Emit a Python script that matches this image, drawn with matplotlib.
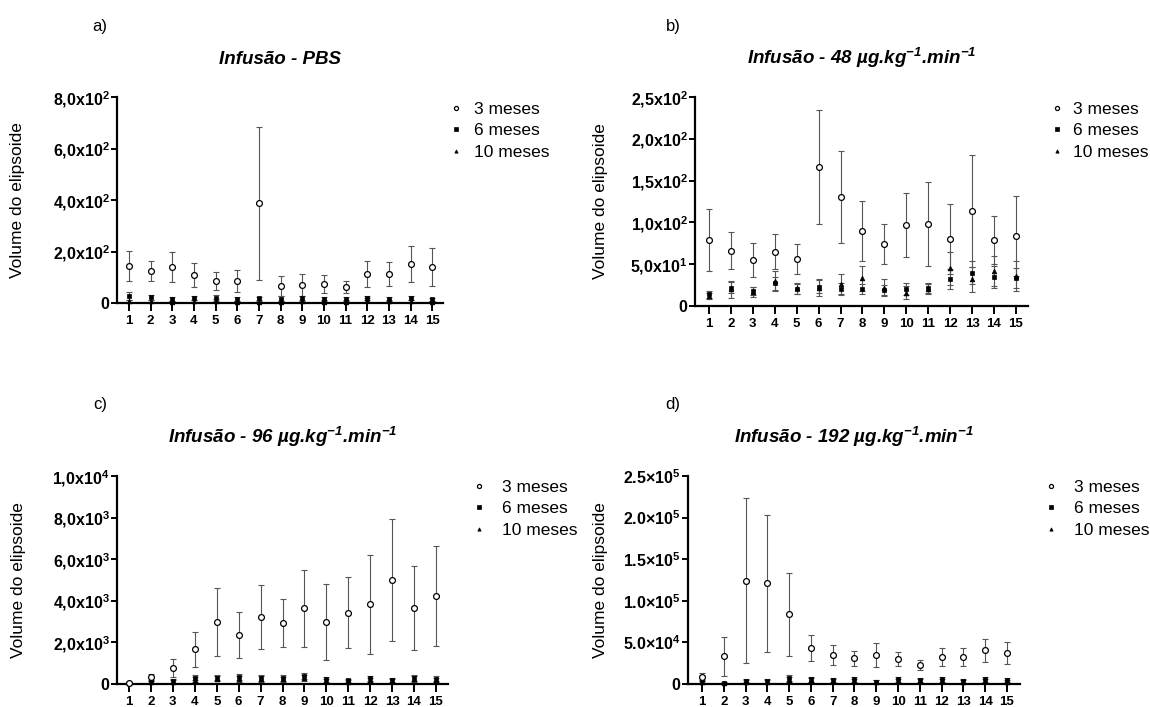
import matplotlib
matplotlib.use("Agg")
import matplotlib.pyplot as plt
from matplotlib.lines import Line2D
import numpy as np

plt.rcParams['font.family'] = ['Liberation Sans', 'DejaVu Sans']
plt.rcParams['mathtext.fontset'] = 'custom'
plt.rcParams['mathtext.rm'] = 'Liberation Sans'
plt.rcParams['mathtext.bf'] = 'Liberation Sans:bold'
plt.rcParams['mathtext.it'] = 'Liberation Sans:italic'
plt.rcParams['mathtext.bfit'] = 'Liberation Sans:italic:bold'

# ---------------- data ----------------
points = list(range(1, 16))
series_labels = ["3 meses", "6 meses", "10 meses"]

# a) PBS
pbs_3m = [144, 124, 140, 109, 85, 85, 388, 66, 70, 74, 62, 113, 113, 152, 140]
pbs_3m_sd = [58, 39, 58, 46, 36, 42, 297, 39, 43, 35, 23, 52, 48, 70, 74]
pbs_6m = [27, 23, 16, 19, 19, 16, 19, 16, 19, 16, 16, 19, 16, 19, 14]
pbs_6m_sd = [14, 10, 8, 7, 12, 8, 6, 10, 10, 6, 6, 9, 7, 8, 6]
pbs_10m = [8, 6, 5, 6, 8, 5, 4, 5, 6, 4, 5, 10, 6, 7, 5]
pbs_10m_sd = [5, 4, 3, 4, 6, 4, 3, 4, 4, 3, 3, 8, 4, 5, 3]

# b) 48 ug/kg/min
d48_3m = [79, 66, 55, 65, 56, 166, 130, 90, 74, 97, 98, 80, 114, 79, 84]
d48_3m_sd = [37, 22, 20, 21, 18, 68, 55, 36, 24, 38, 50, 42, 67, 29, 48]
d48_6m = [14, 22, 18, 27, 20, 23, 20, 20, 19, 20, 22, 32, 40, 35, 34]
d48_6m_sd = [4, 7, 5, 8, 6, 8, 7, 6, 6, 7, 6, 12, 14, 13, 12]
d48_10m = [12, 20, 17, 30, 21, 22, 26, 33, 22, 16, 20, 45, 32, 42, 36]
d48_10m_sd = [4, 10, 6, 12, 7, 10, 12, 15, 10, 8, 6, 20, 15, 18, 18]

# c) 96 ug/kg/min
d96_3m = [60, 340, 770, 1680, 2980, 2360, 3220, 2930, 3650, 2980, 3430, 3830, 5000, 3650, 4230]
d96_3m_sd = [40, 150, 410, 840, 1635, 1105, 1540, 1155, 1850, 1830, 1705, 2380, 2955, 2020, 2425]
d96_6m = [40, 100, 150, 300, 300, 350, 300, 300, 380, 220, 180, 280, 200, 300, 250]
d96_6m_sd = [20, 60, 80, 120, 120, 150, 150, 150, 150, 100, 80, 120, 100, 150, 120]
d96_10m = [30, 80, 120, 200, 250, 250, 250, 220, 300, 150, 120, 200, 150, 250, 200]
d96_10m_sd = [20, 50, 70, 120, 120, 130, 130, 120, 140, 90, 70, 110, 90, 130, 110]

# d) 192 ug/kg/min
d192_3m = [8400, 33600, 124000, 121000, 84000, 43600, 34800, 31000, 34800, 30000, 22800, 32400, 32400, 40800, 37200]
d192_3m_sd = [4600, 23450, 99250, 82600, 49750, 15500, 12500, 9100, 14200, 8650, 6000, 11200, 11000, 13800, 13000]
d192_6m = [2500, 1500, 4000, 3500, 7000, 6000, 5000, 5500, 3000, 5500, 5000, 5500, 3500, 5500, 4500]
d192_6m_sd = [2000, 1000, 2000, 2000, 3500, 3000, 2500, 2500, 2000, 3000, 2500, 3000, 2000, 3000, 2500]
d192_10m = [2000, 1000, 3000, 2500, 5000, 4500, 3500, 4000, 2500, 4000, 3500, 4000, 2500, 4000, 3000]
d192_10m_sd = [1500, 800, 1800, 1800, 3000, 2500, 2000, 2200, 1800, 2500, 2000, 2500, 1800, 2500, 2000]

# axis ticks and labels
pbs_yticks = [0, 200, 400, 600, 800]
pbs_ylabels = ["0", r"2,0x10$^{\mathbf{2}}$", r"4,0x10$^{\mathbf{2}}$", r"6,0x10$^{\mathbf{2}}$", r"8,0x10$^{\mathbf{2}}$"]
d48_yticks = [0, 50, 100, 150, 200, 250]
d48_ylabels = ["0", r"5,0x10$^{\mathbf{1}}$", r"1,0x10$^{\mathbf{2}}$", r"1,5x10$^{\mathbf{2}}$", r"2,0x10$^{\mathbf{2}}$", r"2,5x10$^{\mathbf{2}}$"]
d96_yticks = [0, 2000, 4000, 6000, 8000, 10000]
d96_ylabels = ["0", r"2,0x10$^{\mathbf{3}}$", r"4,0x10$^{\mathbf{3}}$", r"6,0x10$^{\mathbf{3}}$", r"8,0x10$^{\mathbf{3}}$", r"1,0x10$^{\mathbf{4}}$"]
d192_yticks = [0, 50000, 100000, 150000, 200000, 250000]
d192_ylabels = ["0", r"5.0×10$^{\mathbf{4}}$", r"1.0×10$^{\mathbf{5}}$", r"1.5×10$^{\mathbf{5}}$", r"2.0×10$^{\mathbf{5}}$", r"2.5×10$^{\mathbf{5}}$"]

titles = [
    "Infusão - PBS",
    r"Infusão - 48 µg.kg$^{\mathbfit{-1}}$.min$^{\mathbfit{-1}}$",
    r"Infusão - 96 µg.kg$^{\mathbfit{-1}}$.min$^{\mathbfit{-1}}$",
    r"Infusão - 192 µg.kg$^{\mathbfit{-1}}$.min$^{\mathbfit{-1}}$",
]
panel_tags = ["a)", "b)", "c)", "d)"]
ylabel = "Volume do elipsoide"

# ---------------- figure ----------------
W, H = 1150, 707
fig = plt.figure(figsize=(W / 100, H / 100), dpi=100)


def px_axes(left, top, right, bottom):
    return fig.add_axes([left / W, 1 - bottom / H, (right - left) / W, (bottom - top) / H])


panels = [
    dict(box=(117, 97, 443, 303), xlim=(0.45, 15.5),
         data=[(pbs_3m, pbs_3m_sd), (pbs_6m, pbs_6m_sd), (pbs_10m, pbs_10m_sd)],
         yt=pbs_yticks, yl=pbs_ylabels, leg=(449, 102, 0.65), tagpos=(100, 27), ylab_x=18),
    dict(box=(695, 97, 1028, 306), xlim=(0.36, 15.55),
         data=[(d48_3m, d48_3m_sd), (d48_6m, d48_6m_sd), (d48_10m, d48_10m_sd)],
         yt=d48_yticks, yl=d48_ylabels, leg=(1050, 102, 0.55), tagpos=(673, 27), ylab_x=600),
    dict(box=(117, 476, 448, 684), xlim=(0.45, 15.55),
         data=[(d96_3m, d96_3m_sd), (d96_6m, d96_6m_sd), (d96_10m, d96_10m_sd)],
         yt=d96_yticks, yl=d96_ylabels, leg=(472, 480, 0.9), tagpos=(100, 405), ylab_x=19),
    dict(box=(688, 476, 1020, 684), xlim=(0.36, 15.6),
         data=[(d192_3m, d192_3m_sd), (d192_6m, d192_6m_sd), (d192_10m, d192_10m_sd)],
         yt=d192_yticks, yl=d192_ylabels, leg=(1044, 480, 0.9), tagpos=(673, 405), ylab_x=600),
]

styles = [
    dict(marker='o', ms=4.2, mfc='white', mec='black', mew=0.9),
    dict(marker='s', ms=3.5, mfc='black', mec='black', mew=0.5),
    dict(marker='^', ms=3.4, mfc='black', mec='black', mew=0.5),
]

for p, title, tag in zip(panels, titles, panel_tags):
    ax = px_axes(*p['box'])
    x = np.array(points)
    # draw 10 meses first so the open circles sit on top
    for idx in [2, 1, 0]:
        mean, sd = p['data'][idx]
        ax.errorbar(x, mean, yerr=sd, fmt='none', ecolor='#555555', elinewidth=0.8,
                    capsize=2.2, capthick=0.8, clip_on=False, zorder=2)
        ax.plot(x, mean, linestyle='none', clip_on=False, zorder=4 - idx * 0.5,
                label=series_labels[idx], **styles[idx])
    h = [Line2D([], [], linestyle='none', **styles[i]) for i in range(3)]
    ax.set_xlim(*p['xlim'])
    ax.set_ylim(p['yt'][0], p['yt'][-1])
    ax.set_xticks(points)
    ax.set_xticklabels([str(v) for v in points], fontsize=9.5, fontweight='bold')
    ax.set_yticks(p['yt'])
    ax.set_yticklabels(p['yl'], fontsize=11.5, fontweight='bold')
    for s in ['top', 'right']:
        ax.spines[s].set_visible(False)
    for s in ['left', 'bottom']:
        ax.spines[s].set_linewidth(1.6)
    ax.tick_params(axis='y', length=4, width=1.4, pad=1.5)
    ax.tick_params(axis='x', length=6, width=1.4, pad=2.5)
    ax.set_title(title, fontsize=13.5, fontweight='bold', fontstyle='italic', pad=24)
    fig.text(p['ylab_x'] / W, 1 - ((p['box'][1] + p['box'][3]) / 2) / H, ylabel,
             rotation=90, ha='center', va='center', fontsize=12.5)
    tx, ty = p['tagpos']
    fig.text(tx / W, 1 - ty / H, tag, ha='center', va='center', fontsize=12)
    lx, ly, tp = p['leg']
    fig.legend(h, series_labels, loc='upper left', bbox_to_anchor=(lx / W, 1 - ly / H),
               frameon=False, fontsize=12.5, handlelength=0.8, handletextpad=tp,
               labelspacing=0.35, borderaxespad=0, borderpad=0, markerscale=0.7)

fig.savefig("out.png", dpi=100)
